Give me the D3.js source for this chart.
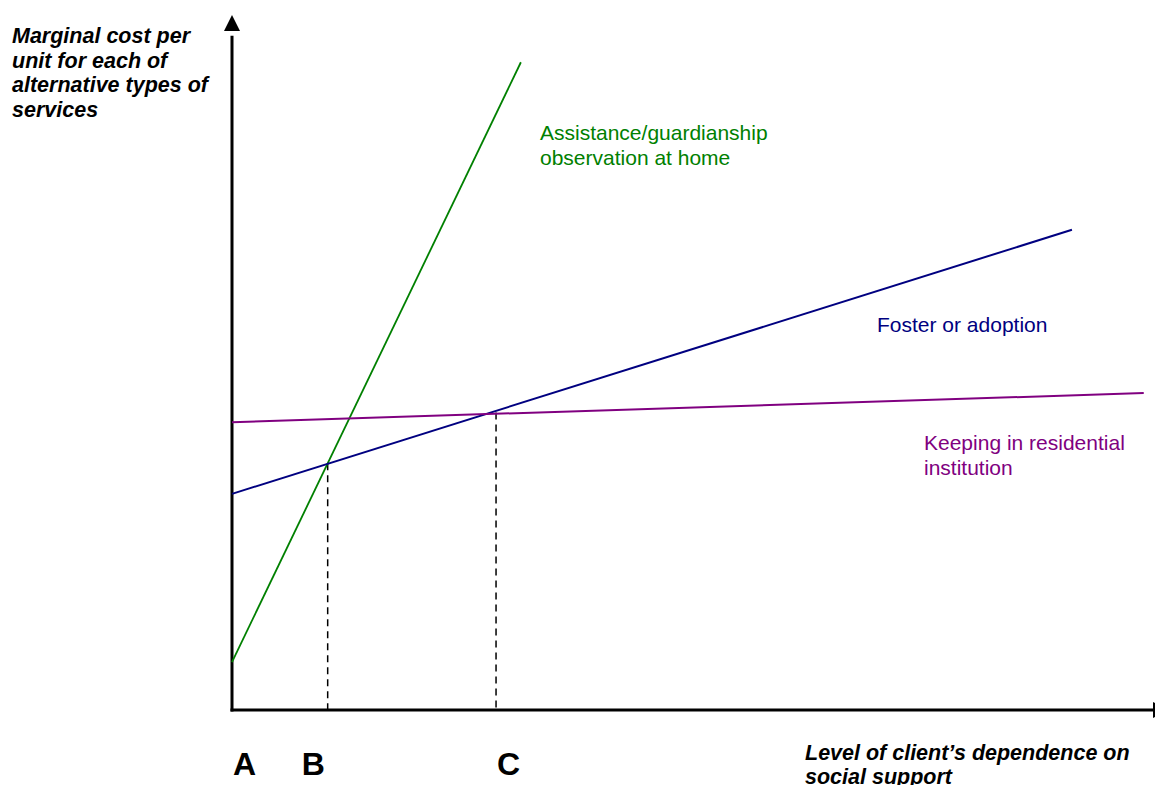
<!DOCTYPE html>
<html><head><meta charset="utf-8">
<script src="https://cdn.jsdelivr.net/npm/d3@7"></script>
<style>html,body{margin:0;padding:0;background:#fff;overflow:hidden}</style>
</head><body>
<svg id="c" width="1155" height="785"></svg>
<script>
// Data (abstract units)
const seriesNames = ["Assistance/guardianship observation at home", "Foster or adoption", "Keeping in residential institution"];
const seriesColors = ["#008000", "#000080", "#800080"];
const greenLine = [[0, 6.9], [31.4, 93.2]];
const blueLine = [[0, 31.1], [91.3, 69.1]];
const purpleLine = [[0, 41.4], [99.1, 45.6]];
const markLetters = ["A", "B", "C"];
const markPositions = [0, 10.4, 28.7];
const dropTops = [null, 35.5, 42.8];

const svg = d3.select("#c");
const x = d3.scaleLinear().domain([0, 100]).range([232, 1152]);
const y = d3.scaleLinear().domain([0, 100]).range([710, 15]);
const font = "Arial, 'Liberation Sans', Helvetica, sans-serif";

// axes
svg.append("line").attr("x1", x(0)).attr("y1", y(0)+1.5).attr("x2", x(0)).attr("y2", y(97)).attr("stroke", "#000").attr("stroke-width", 3);
svg.append("path").attr("d", `M${x(0)},${y(100)} L${x(0)-8},${y(100)+16} L${x(0)+8},${y(100)+16} Z`).attr("fill", "#000");
svg.append("line").attr("x1", x(0)-1.5).attr("y1", y(0)).attr("x2", x(100)+2).attr("y2", y(0)).attr("stroke", "#000").attr("stroke-width", 3);
svg.append("path").attr("d", `M${x(100)+17},${y(0)} L${x(100)+1},${y(0)-8} L${x(100)+1},${y(0)+8} Z`).attr("fill", "#000");

// dashed drop lines
markPositions.forEach((p, i) => {
  if (dropTops[i] == null) return;
  svg.append("line").attr("x1", x(p)).attr("x2", x(p)).attr("y1", y(dropTops[i])).attr("y2", y(0))
    .attr("stroke", "#000").attr("stroke-width", 1.5).attr("stroke-dasharray", "7,5");
});

const line = d3.line().x(d => x(d[0])).y(d => y(d[1]));
[greenLine, blueLine, purpleLine].forEach((s, i) => {
  svg.append("path").attr("d", line(s)).attr("fill", "none").attr("stroke", seriesColors[i]).attr("stroke-width", i === 0 ? 1.8 : 2);
});

// letters
markPositions.forEach((p, i) => {
  svg.append("text").attr("x", x(p) + [1, -26, 1][i]).attr("y", 775).text(markLetters[i])
    .attr("font-family", font).attr("font-weight", "bold").attr("font-size", 32).attr("fill", "#000");
});

function multi(lines, xp, yp, dy, size, color, bold, italic) {
  const t = svg.append("text").attr("font-family", font).attr("font-size", size).attr("fill", color)
    .attr("font-weight", bold ? "bold" : "normal").attr("font-style", italic ? "italic" : "normal");
  lines.forEach((l, i) => t.append("tspan").attr("x", xp).attr("y", yp + i * dy).text(l));
}
multi(["Marginal cost per", "unit for each of", "alternative types of", "services"], 12, 43, 24.6, 21.5, "#000", true, true);
multi(["Level of client\u2019s dependence on", "social support"], 805, 760, 24, 21.5, "#000", true, true);
multi(["Assistance/guardianship", "observation at home"], 540, 140, 24.5, 21, seriesColors[0], false, false);
multi(["Foster or adoption"], 877, 332, 24.5, 21, seriesColors[1], false, false);
multi(["Keeping in residential", "institution"], 924, 450, 24.5, 21, seriesColors[2], false, false);
</script>
</body></html>
